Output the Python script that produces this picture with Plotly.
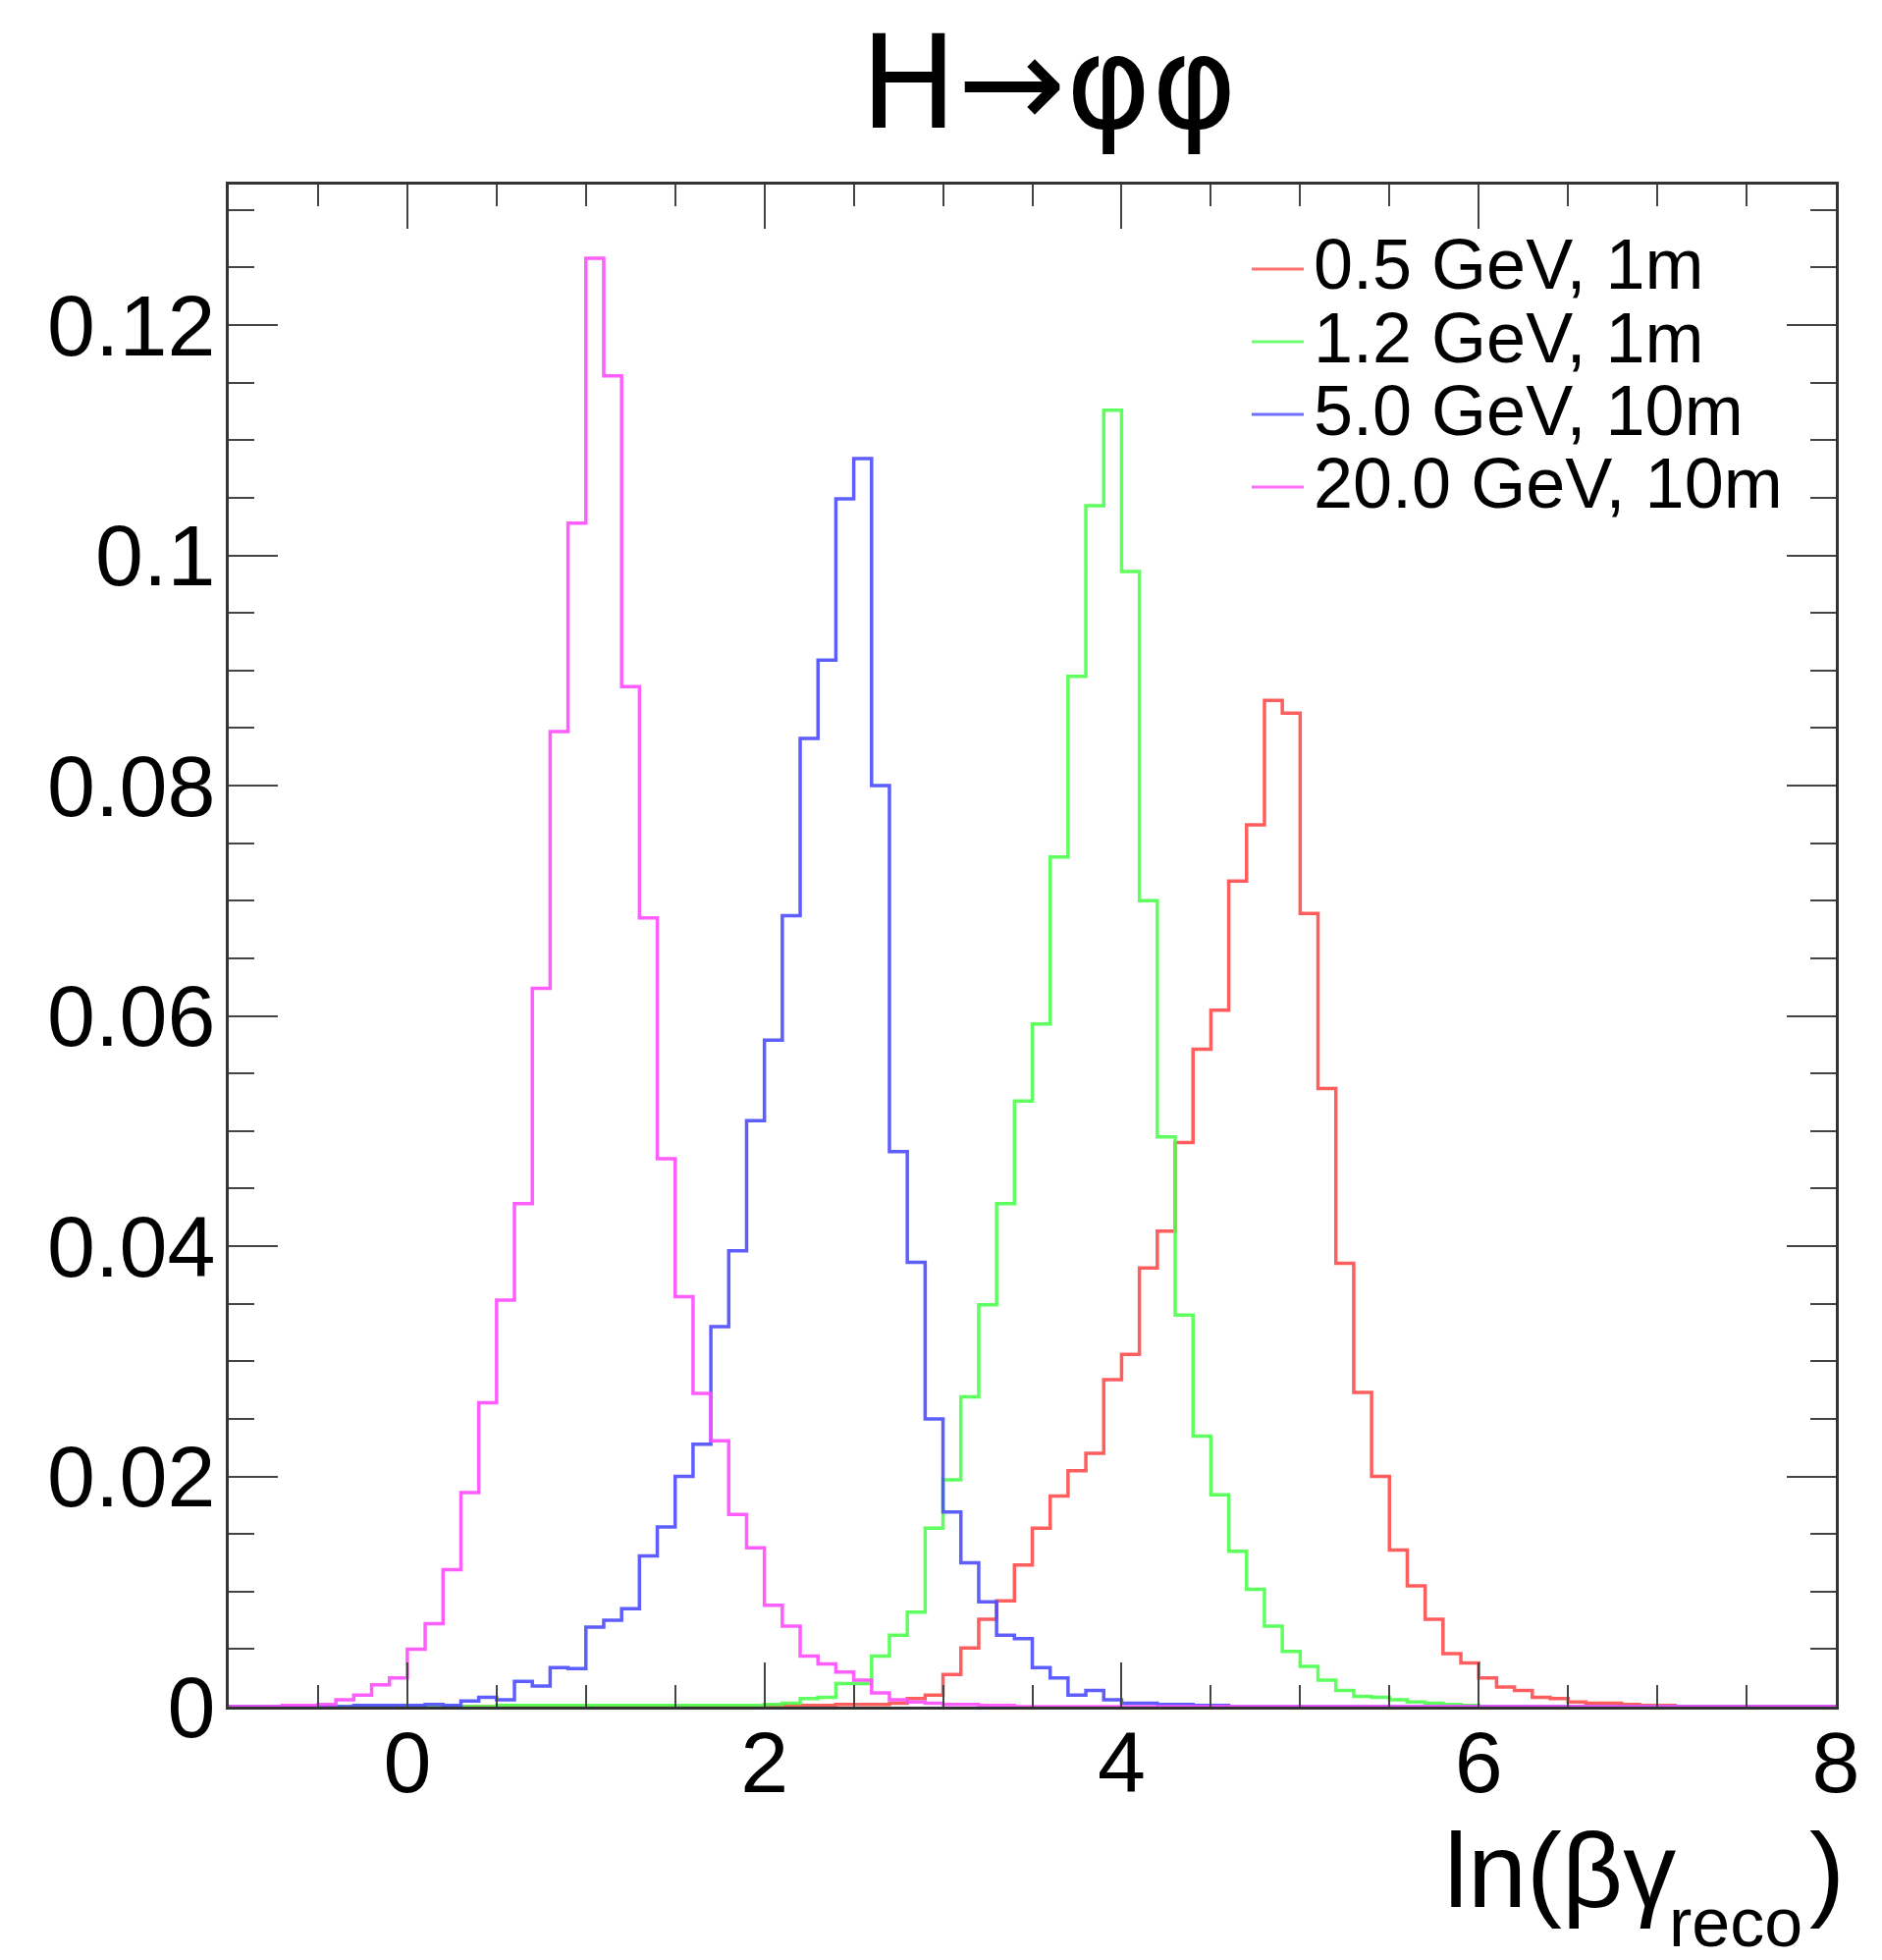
import numpy as np
import plotly.graph_objects as go

# histogram binning (0.1 wide bins from -1 to 8)
bin_width = 0.1
x_lo, x_hi = -1.0, 8.0

labels = ["0.5 GeV, 1m", "1.2 GeV, 1m", "5.0 GeV, 10m", "20.0 GeV, 10m"]
colors = ["#ff4d4d", "#4dff4d", "#4d4dff", "#ff4dff"]

# first filled bin (low edge) and contents of each histogram
red_start = 2.0
red_vals = [0.0001, 0.0001, 0.0001, 0.0001, 0.0002, 0.0002, 0.0002, 0.0003, 0.0007, 0.0010,
            0.0028, 0.0051, 0.0076, 0.0092, 0.0123, 0.0155, 0.0183, 0.0205, 0.0220, 0.0284,
            0.0306, 0.0381, 0.0413, 0.0490, 0.0571, 0.0605, 0.0717, 0.0766, 0.0874, 0.0863,
            0.0689, 0.0537, 0.0385, 0.0273, 0.0200, 0.0136, 0.0105, 0.0076, 0.0046, 0.0038,
            0.0025, 0.0017, 0.0014, 0.0008, 0.0007, 0.0004, 0.0003, 0.0003, 0.0002, 0.0001,
            0.0001]

green_start = 0.5
green_vals = [0.0001, 0.0001, 0.0001, 0.0001, 0.0001, 0.0001, 0.0001, 0.0001, 0.0001, 0.0001,
              0.0001, 0.0001, 0.0001, 0.0001, 0.0001,
              0.0002, 0.0003, 0.0007, 0.0008, 0.0020, 0.0020, 0.0044, 0.0062, 0.0082, 0.0155,
              0.0197, 0.0269, 0.0349, 0.0437, 0.0526, 0.0593, 0.0738, 0.0895, 0.1043, 0.1126,
              0.0986, 0.0700, 0.0495, 0.0340, 0.0235, 0.0184, 0.0135, 0.0102, 0.0070, 0.0048,
              0.0035, 0.0023, 0.0014, 0.0009, 0.0008, 0.0006, 0.0004, 0.0003, 0.0002, 0.0001]

blue_start = -0.3
blue_vals = [0.0001, 0.0001, 0.0001, 0.0001, 0.0002, 0.0001, 0.0005, 0.0008, 0.0006, 0.0022,
             0.0018, 0.0034, 0.0033, 0.0069, 0.0075, 0.0085, 0.0131, 0.0156, 0.0200, 0.0228,
             0.0330, 0.0396, 0.0509, 0.0579, 0.0687, 0.0841, 0.0909, 0.1049, 0.1084, 0.0800,
             0.0482, 0.0386, 0.0250, 0.0169, 0.0125, 0.0091, 0.0062, 0.0059, 0.0034, 0.0025,
             0.0010, 0.0014, 0.0006, 0.0003, 0.0003, 0.0002, 0.0002, 0.0001, 0.0001]

magenta_start = -0.7
magenta_vals = [0.0001, 0.0001, 0.0002, 0.0006, 0.0010, 0.0019, 0.0025, 0.0050, 0.0072, 0.0119,
                0.0186, 0.0264, 0.0353, 0.0437, 0.0624, 0.0847, 0.1028, 0.1258, 0.1156, 0.0886,
                0.0685, 0.0476, 0.0356, 0.0272, 0.0231, 0.0167, 0.0138, 0.0088, 0.0070, 0.0044,
                0.0037, 0.0030, 0.0023, 0.0012, 0.0006, 0.0004, 0.0003, 0.0002, 0.0002, 0.0001,
                0.0001]

series = [(red_start, red_vals), (green_start, green_vals),
          (blue_start, blue_vals), (magenta_start, magenta_vals)]

n_bins = int(round((x_hi - x_lo) / bin_width))
edges = x_lo + bin_width * np.arange(n_bins + 1)

fig = go.Figure()
for (start, vals), name, col in zip(series, labels, colors):
    counts = np.zeros(n_bins)
    i0 = int(round((start - x_lo) / bin_width))
    counts[i0:i0 + len(vals)] = vals
    fig.add_trace(go.Scatter(
        x=edges, y=np.append(counts, counts[-1]),
        mode="lines", line_shape="hv", name=name, showlegend=False,
        line=dict(color=col, width=3.5), opacity=0.9,
    ))

font_main = "Liberation Sans, Arial, Helvetica, sans-serif"
axis_common = dict(
    showgrid=False, zeroline=False, showline=True, linecolor="#333333", linewidth=3,
    mirror="ticks", ticks="inside", tickcolor="#444444", tickwidth=2,
    tickfont=dict(family=font_main, size=88, color="black"),
)

fig.update_xaxes(range=[x_lo, x_hi], dtick=2, ticklen=45,
                 minor=dict(dtick=0.5, ticklen=22, ticks="inside", tickcolor="#444444", tickwidth=2),
                 ticklabelstandoff=-22, **axis_common)
fig.update_yaxes(range=[0, 0.1322], dtick=0.02, ticklen=50,
                 minor=dict(dtick=0.005, ticklen=26, ticks="inside", tickcolor="#444444", tickwidth=2),
                 ticklabelstandoff=-7, **axis_common)

# title
fig.add_annotation(text="H→φφ", xref="paper", yref="paper", x=0.510, y=1.067,
                   xanchor="center", yanchor="middle", showarrow=False,
                   font=dict(family="DejaVu Sans, sans-serif", size=132, color="black"))

# x axis title, right aligned: ln(βγ_reco)
fig.add_annotation(text="ln(βγ", xref="paper", yref="paper", x=0.755, y=-0.0671,
                   xanchor="left", yanchor="top", showarrow=False,
                   font=dict(family=font_main, size=108, color="black"))
fig.add_annotation(text="reco", xref="paper", yref="paper", x=0.895, y=-0.1155,
                   xanchor="left", yanchor="top", showarrow=False,
                   font=dict(family=font_main, size=70, color="black"))
fig.add_annotation(text=")", xref="paper", yref="paper", x=0.9823, y=-0.0671,
                   xanchor="left", yanchor="top", showarrow=False,
                   font=dict(family=font_main, size=108, color="black"))

# legend drawn as line samples + labels in the top right corner
leg_text_y = [0.9477, 0.8994, 0.8516, 0.8039]
leg_line_y = [0.9445, 0.8968, 0.8490, 0.8013]
for name, col, ty, ly in zip(labels, colors, leg_text_y, leg_line_y):
    fig.add_shape(type="line", xref="paper", yref="paper", x0=0.6365, x1=0.6689, y0=ly, y1=ly,
                  line=dict(color=col, width=3), opacity=0.8)
    fig.add_annotation(text=name, xref="paper", yref="paper", x=0.6738, y=ty,
                       xanchor="left", yanchor="middle", showarrow=False,
                       font=dict(family=font_main, size=72, color="black"))

fig.update_layout(
    width=1909, height=1988,
    margin=dict(l=225, r=47, t=180, b=258),
    plot_bgcolor="white", paper_bgcolor="white",
    showlegend=False,
)

fig.write_html("out.html")
